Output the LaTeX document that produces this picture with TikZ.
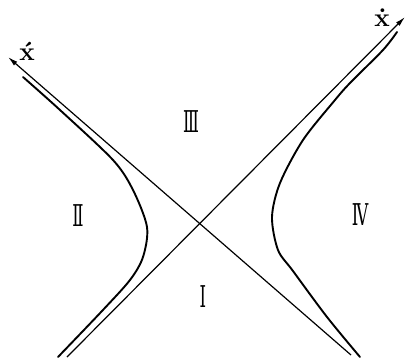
\documentclass[tikz,border=0pt]{standalone}
\usepackage{fontspec}
\newfontfamily\numfont{DejaVu Serif}
\usetikzlibrary{arrows.meta}
\begin{document}
\begin{tikzpicture}[x=1pt,y=-1pt,
  axis/.style={line width=1.2pt,-{Latex[length=10pt,width=5pt]}},
  hyp/.style={line width=1.9pt,line cap=round},
  region/.style={font=\numfont\fontsize{30}{30}\selectfont,xscale=0.55,transform shape,inner sep=0pt},
  xlab/.style={font=\fontsize{26}{26}\selectfont\bfseries,inner sep=0pt}]
\useasboundingbox (0,0) rectangle (407,357);
\coordinate (p1) at (67,357);
\coordinate (t1) at (405,17);
\coordinate (p2) at (351,355);
\coordinate (t2) at (8,57);
\draw[axis] (p1) -- (t1);
\draw[axis] (p2) -- (t2);
\draw[hyp] plot[smooth] coordinates {(23,77) (60,110) (113,160) (133,190) (147,227) (143,257) (130,280) (102,311) (58,357)};
\draw[hyp] plot[smooth] coordinates {(397,32) (383,50) (350,83) (335,100) (303,140) (280,183) (272,217) (278,250) (293,271) (327,317) (360,357)};
\node[region] (r1) at (203,297) {Ⅰ};
\node[region] (r2) at (78,216) {Ⅱ};
\node[region] (r3) at (191,122) {Ⅲ};
\node[region] (r4) at (360,215) {Ⅳ};
\node[xlab] (xm) at (27,51) {\'x};
\node[xlab] (xp) at (382,18) {\.x};
\end{tikzpicture}
\end{document}
